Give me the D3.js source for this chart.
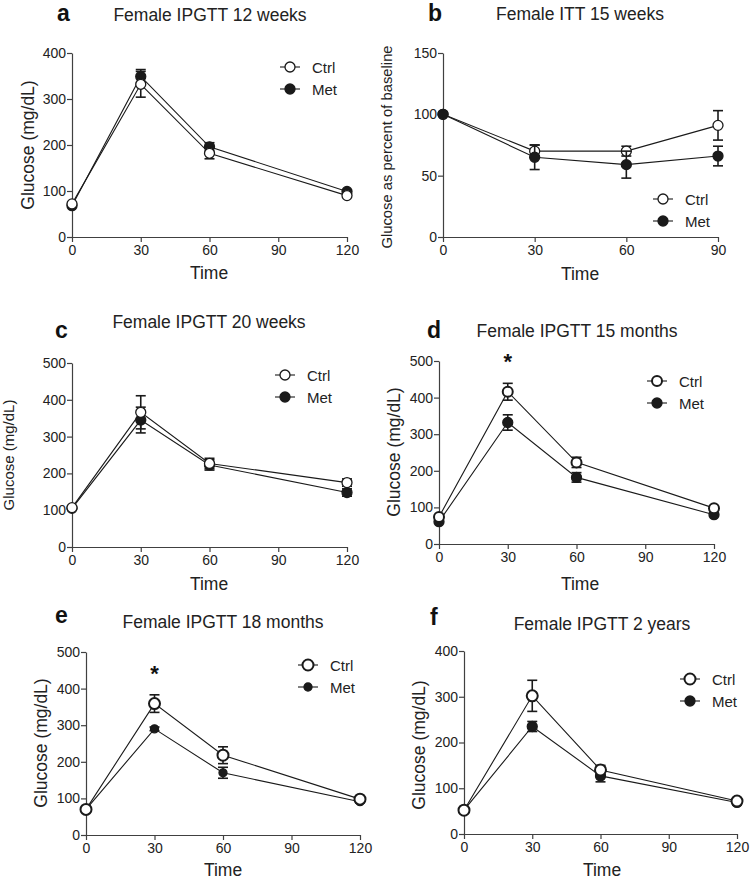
<!DOCTYPE html>
<html><head><meta charset="utf-8">
<script src="https://cdn.jsdelivr.net/npm/d3@7/dist/d3.min.js"></script>
<style>
body{margin:0;background:#fff;}
svg{display:block;font-family:"Liberation Sans",Arial,sans-serif;}
</style></head>
<body><svg id="c" width="750" height="881"></svg>
<script>
// ---- data ----
const timesGTT = [0, 30, 60, 120];
const timesITT = [0, 30, 60, 90];
const seriesNames = ["Ctrl", "Met"];

const aCtrl = [72, 332, 182, 90],  aCtrlErr = [3, 28, 12, 3];
const aMet  = [68, 349, 196, 99],  aMetErr  = [3, 15, 9, 3];

const bCtrl = [100, 70, 70, 91],   bCtrlErr = [0, 5, 4, 12];
const bMet  = [100, 65, 59, 66],   bMetErr  = [0, 10, 11, 8];

const cCtrl = [107, 366, 227, 175], cCtrlErr = [4, 45, 14, 10];
const cMet  = [105, 345, 223, 148], cMetErr  = [4, 35, 14, 10];

const dCtrl = [74, 416, 223, 98],  dCtrlErr = [4, 23, 14, 4];
const dMet  = [61, 332, 182, 80],  dMetErr  = [4, 21, 13, 4];

const eCtrl = [70, 359, 218, 98],  eCtrlErr = [3, 24, 23, 4];
const eMet  = [70, 290, 170, 91],  eMetErr  = [3, 5, 15, 3];

const fCtrl = [52, 302, 140, 72],  fCtrlErr = [3, 34, 10, 3];
const fMet  = [52, 235, 127, 69],  fMetErr  = [3, 11, 13, 3];

const xTicksGTT = [0, 30, 60, 90, 120];
const xTicksITT = [0, 30, 60, 90];

// ---- panel layout ----
const panels = [
 {letter:"a", title:"Female IPGTT 12 weeks", times:timesGTT, xMax:120, xTicks:xTicksGTT, yMax:400, yTicks:[0,100,200,300,400],
  ctrl:aCtrl, ctrlErr:aCtrlErr, met:aMet, metErr:aMetErr,
  x0:72, x1:347, yTop:53, yBot:237, ylabel:"Glucose (mg/dL)", ylx:34, yly:145, ylfs:17.5,
  tx:210, ty:21, lx:57, ly:21, timeX:209, timeY:279, legX:290, legY:67, ctrlTop:true, sw:1.3, rC:5, rM:5},
 {letter:"b", title:"Female ITT 15 weeks", times:timesITT, xMax:90, xTicks:xTicksITT, yMax:150, yTicks:[0,50,100,150],
  ctrl:bCtrl, ctrlErr:bCtrlErr, met:bMet, metErr:bMetErr,
  x0:443, x1:718, yTop:53, yBot:237, ylabel:"Glucose as percent of baseline", ylx:392, yly:147, ylfs:14.8,
  tx:580, ty:20, lx:428, ly:21, timeX:580, timeY:280, legX:663, legY:199, ctrlTop:false, sw:1.3, rC:5, rM:5},
 {letter:"c", title:"Female IPGTT 20 weeks", times:timesGTT, xMax:120, xTicks:xTicksGTT, yMax:500, yTicks:[0,100,200,300,400,500],
  ctrl:cCtrl, ctrlErr:cCtrlErr, met:cMet, metErr:cMetErr,
  x0:72, x1:347, yTop:363, yBot:547, ylabel:"Glucose (mg/dL)", ylx:14, yly:455, ylfs:15,
  tx:209, ty:328, lx:55, ly:338, timeX:209, timeY:590, legX:285, legY:375, ctrlTop:true, sw:1.3, rC:5, rM:5},
 {letter:"d", title:"Female IPGTT 15 months", times:timesGTT, xMax:120, xTicks:xTicksGTT, yMax:500, yTicks:[0,100,200,300,400,500],
  ctrl:dCtrl, ctrlErr:dCtrlErr, met:dMet, metErr:dMetErr,
  x0:439, x1:714, yTop:361, yBot:544, ylabel:"Glucose (mg/dL)", ylx:400, yly:452, ylfs:17.5,
  tx:577, ty:337, lx:427, ly:338, timeX:580, timeY:590, legX:657, legY:381, ctrlTop:true, sw:2, rC:5, rM:5, star:true},
 {letter:"e", title:"Female IPGTT 18 months", times:timesGTT, xMax:120, xTicks:xTicksGTT, yMax:500, yTicks:[0,100,200,300,400,500],
  ctrl:eCtrl, ctrlErr:eCtrlErr, met:eMet, metErr:eMetErr,
  x0:86, x1:360, yTop:652, yBot:835, ylabel:"Glucose (mg/dL)", ylx:47, yly:743, ylfs:17.5,
  tx:223, ty:628, lx:55, ly:623, timeX:223, timeY:876, legX:308, legY:665, ctrlTop:true, sw:2, rC:5.5, rM:4, star:true},
 {letter:"f", title:"Female IPGTT 2 years", times:timesGTT, xMax:120, xTicks:xTicksGTT, yMax:400, yTicks:[0,100,200,300,400],
  ctrl:fCtrl, ctrlErr:fCtrlErr, met:fMet, metErr:fMetErr,
  x0:464, x1:737, yTop:651, yBot:834, ylabel:"Glucose (mg/dL)", ylx:425, yly:745, ylfs:17.5,
  tx:602, ty:630, lx:430, ly:625, timeX:602, timeY:876, legX:690, legY:679, ctrlTop:true, sw:2, rC:5.5, rM:5}
];

const svg = d3.select("#c");
const AX = "#404040", LN = "#1a1a1a";

panels.forEach(p => {
  const g = svg.append("g");
  const x = d3.scaleLinear().domain([0, p.xMax]).range([p.x0, p.x1]);
  const y = d3.scaleLinear().domain([0, p.yMax]).range([p.yBot, p.yTop]);

  // axes
  const xa = g.append("g").attr("transform", `translate(0,${p.yBot})`)
    .call(d3.axisBottom(x).tickValues(p.xTicks).tickSize(5).tickPadding(3).tickSizeOuter(0));
  const ya = g.append("g").attr("transform", `translate(${p.x0},0)`)
    .call(d3.axisLeft(y).tickValues(p.yTicks).tickSize(5).tickPadding(1).tickSizeOuter(0));
  [xa, ya].forEach(a => {
    a.select(".domain").attr("stroke", AX).attr("stroke-width", 1.2);
    a.selectAll(".tick line").attr("stroke", AX).attr("stroke-width", 1.2);
    a.selectAll(".tick text").attr("fill", "#222").style("font-size", "14px").style("font-family", "Liberation Sans, Arial, sans-serif");
  });

  // titles
  g.append("text").attr("x", p.tx).attr("y", p.ty).attr("text-anchor", "middle")
    .style("font-size", "17.5px").attr("fill", "#222").text(p.title);
  g.append("text").attr("x", p.lx).attr("y", p.ly)
    .style("font-size", "23px").style("font-weight", "bold").attr("fill", "#111").text(p.letter);
  g.append("text").attr("x", p.timeX).attr("y", p.timeY).attr("text-anchor", "middle")
    .style("font-size", "17.5px").attr("fill", "#222").text("Time");
  g.append("text").attr("transform", `translate(${p.ylx},${p.yly}) rotate(-90)`).attr("text-anchor", "middle")
    .style("font-size", p.ylfs + "px").attr("fill", "#222").text(p.ylabel);

  const series = [
    {name:"Ctrl", vals:p.ctrl, err:p.ctrlErr, fill:"#fff", r:p.rC, sw:p.sw},
    {name:"Met", vals:p.met, err:p.metErr, fill:LN, r:p.rM, sw:1.3}
  ];
  const order = p.ctrlTop ? [series[1], series[0]] : [series[0], series[1]];

  const line = d3.line().x(d => x(d[0])).y(d => y(d[1]));
  order.forEach(s => {
    const pts = p.times.map((t, i) => [t, s.vals[i]]);
    g.append("path").attr("d", line(pts)).attr("fill", "none").attr("stroke", LN).attr("stroke-width", 1.1);
  });
  order.forEach(s => {
    const sg = g.append("g");
    p.times.forEach((t, i) => {
      const e = s.err[i];
      if (e > 0) {
        const cx = x(t), y1 = y(s.vals[i] - e), y2 = y(s.vals[i] + e);
        sg.append("line").attr("x1", cx).attr("x2", cx).attr("y1", y1).attr("y2", y2).attr("stroke", LN).attr("stroke-width", 1.6);
        [y1, y2].forEach(yy => sg.append("line").attr("x1", cx - 5).attr("x2", cx + 5).attr("y1", yy).attr("y2", yy)
          .attr("stroke", LN).attr("stroke-width", 1.6));
      }
    });
    sg.selectAll("circle").data(p.times).join("circle")
      .attr("cx", t => x(t)).attr("cy", (t, i) => y(s.vals[i])).attr("r", s.r)
      .attr("fill", s.fill).attr("stroke", LN).attr("stroke-width", s.sw);
  });

  if (p.star) {
    const i30 = p.times.indexOf(30);
    g.append("text").attr("x", x(30)).attr("y", y(p.ctrl[i30] + p.ctrlErr[i30]) - 14).attr("text-anchor", "middle")
      .style("font-size", "22px").style("font-weight", "bold").attr("fill", "#111").text("*");
  }

  // legend
  series.forEach((s, k) => {
    const ly = p.legY + k * 22;
    g.append("line").attr("x1", p.legX - 10).attr("x2", p.legX + 10).attr("y1", ly).attr("y2", ly)
      .attr("stroke", LN).attr("stroke-width", 1.1);
    g.append("circle").attr("cx", p.legX).attr("cy", ly).attr("r", s.r).attr("fill", s.fill)
      .attr("stroke", LN).attr("stroke-width", s.sw);
    g.append("text").attr("x", p.legX + 22).attr("y", ly + 5.5).style("font-size", "15px").attr("fill", "#222").text(s.name);
  });
});
</script></body></html>
